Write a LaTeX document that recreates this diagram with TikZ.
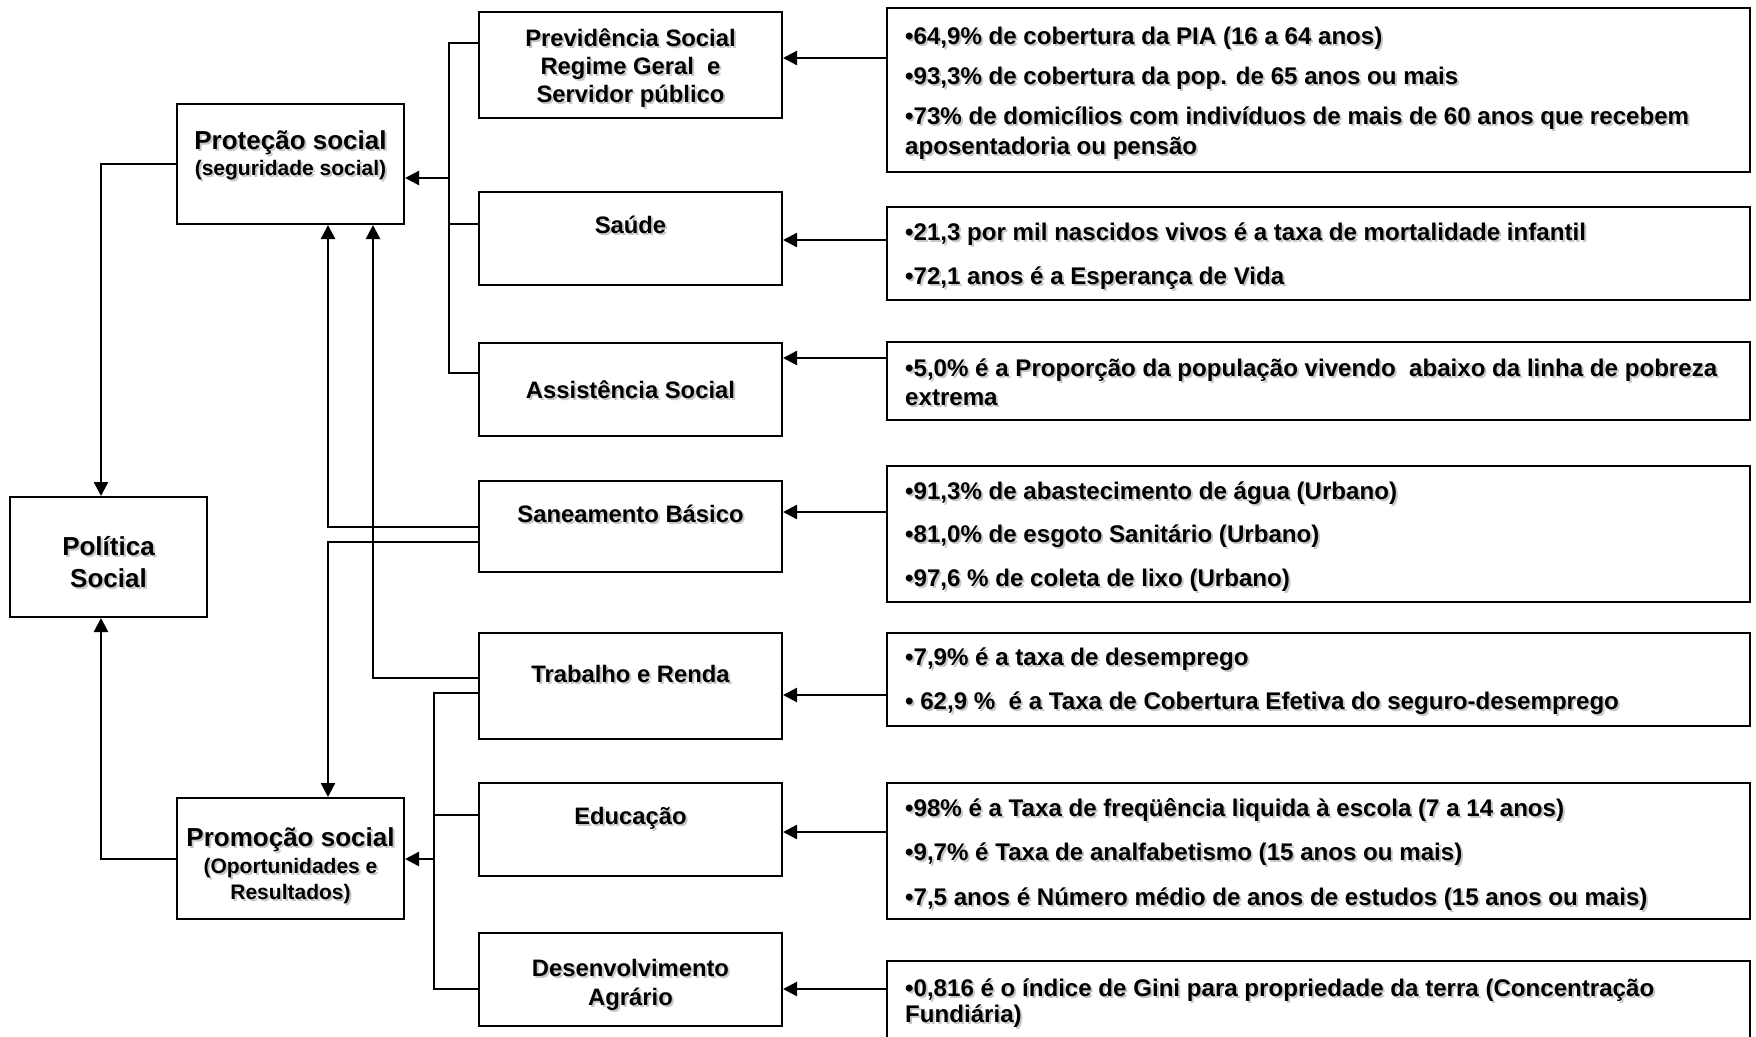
\documentclass[tikz,border=0pt]{standalone}
\usepackage{fontspec}
\setmainfont{Liberation Sans}
\usetikzlibrary{arrows.meta,fit}

% text with a soft grey drop shadow: #1 style, #2 name, #3 position, #4 text
\newcommand\shtext[4]{%
  \node[#1, text=black!22, xshift=2pt, yshift=-2pt] at #3 {#4};
  \node[#1] (#2) at #3 {#4};}

\begin{document}
\begin{tikzpicture}[x=1pt,y=-1pt,
  box/.style={draw, line width=2pt, inner sep=0pt},
  conn/.style={line width=1.8pt},
  arr/.style={line width=2.4pt, -{Triangle[length=14pt,width=14pt]}},
  ttl/.style={font=\fontsize{26}{31}\selectfont\bfseries, inner sep=0pt, anchor=base},
  sub/.style={font=\fontsize{21}{25}\selectfont\bfseries, inner sep=0pt, anchor=base},
  mid/.style={font=\fontsize{23.8}{28}\selectfont\bfseries, inner sep=0pt, anchor=base},
  info/.style={font=\fontsize{24.1}{28}\selectfont\bfseries, inner sep=0pt, anchor=base west},
]
\useasboundingbox (0,0) rectangle (1756,1036);
\clip (0,0) rectangle (1756,1036);

% ---------- left column ----------
\node[box, fit={(10,497) (207,617)}] (pol) {};
\node[box, fit={(177,104) (404,224)}] (prot) {};
\node[box, fit={(177,798) (404,919)}] (prom) {};

\shtext{ttl}{polA}{(108.5,555)}{Política}
\shtext{ttl}{polB}{(108.5,587)}{Social}
\shtext{ttl}{protA}{(290.5,149)}{Proteção social}
\shtext{sub}{protB}{(290.5,175)}{(seguridade social)}
\shtext{ttl}{promA}{(290.5,846)}{Promoção social}
\shtext{sub}{promB}{(290.5,873)}{(Oportunidades e}
\shtext{sub}{promC}{(290.5,899)}{Resultados)}

% ---------- middle column ----------
\node[box, fit={(479,12) (782,118)}] (prev) {};
\node[box, fit={(479,192) (782,285)}] (saude) {};
\node[box, fit={(479,343) (782,436)}] (assist) {};
\node[box, fit={(479,481) (782,572)}] (san) {};
\node[box, fit={(479,633) (782,739)}] (trab) {};
\node[box, fit={(479,783) (782,876)}] (edu) {};
\node[box, fit={(479,933) (782,1026)}] (desen) {};

\shtext{mid}{prevA}{(630.5,46)}{Previdência Social}
\shtext{mid}{prevB}{(630.5,74.5)}{Regime Geral~ e}
\shtext{mid}{prevC}{(630.5,102)}{Servidor público}
\shtext{mid}{saudeA}{(630.5,233)}{Saúde}
\shtext{mid}{assistA}{(630.5,398)}{Assistência Social}
\shtext{mid}{sanA}{(630.5,522)}{Saneamento Básico}
\shtext{mid}{trabA}{(630.5,682)}{Trabalho e Renda}
\shtext{mid}{eduA}{(630.5,824)}{Educação}
\shtext{mid}{desenA}{(630.5,976)}{Desenvolvimento}
\shtext{mid}{desenB}{(630.5,1005)}{Agrário}

% ---------- right column: indicators ----------
\node[box, fit={(887,8) (1750,172)}] (info1) {};
\node[box, fit={(887,207) (1750,300)}] (info2) {};
\node[box, fit={(887,342) (1750,420)}] (info3) {};
\node[box, fit={(887,466) (1750,602)}] (info4) {};
\node[box, fit={(887,633) (1750,726)}] (info5) {};
\node[box, fit={(887,783) (1750,919)}] (info6) {};
\node[box, fit={(887,961) (1750,1050)}] (info7) {};

\shtext{info}{i1a}{(905,44)}{•64,9\% de cobertura da PIA (16 a 64 anos)}
\shtext{info}{i1b}{(905,84)}{•93,3\% de cobertura da pop. de 65 anos ou mais}
\shtext{info}{i1c}{(905,124)}{•73\% de domicílios com indivíduos de mais de 60 anos que recebem}
\shtext{info}{i1d}{(905,154)}{aposentadoria ou pensão}
\shtext{info}{i2a}{(905,240)}{•21,3 por mil nascidos vivos é a taxa de mortalidade infantil}
\shtext{info}{i2b}{(905,284)}{•72,1 anos é a Esperança de Vida}
\shtext{info}{i3a}{(905,376)}{•5,0\% é a Proporção da população vivendo~ abaixo da linha de pobreza}
\shtext{info}{i3b}{(905,405)}{extrema}
\shtext{info}{i4a}{(905,499)}{•91,3\% de abastecimento de água (Urbano)}
\shtext{info}{i4b}{(905,542)}{•81,0\% de esgoto Sanitário (Urbano)}
\shtext{info}{i4c}{(905,586)}{•97,6 \% de coleta de lixo (Urbano)}
\shtext{info}{i5a}{(905,665)}{•7,9\% é a taxa de desemprego}
\shtext{info}{i5b}{(905,709)}{• 62,9 \%~ é a Taxa de Cobertura Efetiva do seguro-desemprego}
\shtext{info}{i6a}{(905,816)}{•98\% é a Taxa de freqüência liquida à escola (7 a 14 anos)}
\shtext{info}{i6b}{(905,860)}{•9,7\% é Taxa de analfabetismo (15 anos ou mais)}
\shtext{info}{i6c}{(905,905)}{•7,5 anos é Número médio de anos de estudos (15 anos ou mais)}
\shtext{info}{i7a}{(905,996)}{•0,816 é o índice de Gini para propriedade da terra (Concentração}
\shtext{info}{i7b}{(905,1022)}{Fundiária)}

% ---------- indicators feed each policy area ----------
\draw[arr] (info1.west |- 0,58)  -- (prev.east |- 0,58);
\draw[arr] (info2.west |- 0,240) -- (saude.east |- 0,240);
\draw[arr] (info3.west |- 0,358) -- (assist.east |- 0,358);
\draw[arr] (info4.west |- 0,512) -- (san.east |- 0,512);
\draw[arr] (info5.west |- 0,695) -- (trab.east |- 0,695);
\draw[arr] (info6.west |- 0,832) -- (edu.east |- 0,832);
\draw[arr] (info7.west |- 0,989) -- (desen.east |- 0,989);

% ---------- social protection bus ----------
\coordinate (busT) at (449,43);
\coordinate (busM) at (449,178);
\coordinate (busB) at (449,373);
\draw[conn] (prev.west |- busT) -- (busT) -- (busB) -- (assist.west |- busB);
\draw[conn] (saude.west |- 0,224) -- (busB |- 0,224);
\draw[arr] (busM) -- (prot.east |- busM);

% ---------- social promotion bus ----------
\coordinate (pbT) at (434,693);
\coordinate (pbM) at (434,859);
\coordinate (pbB) at (434,989);
\draw[conn] (trab.west |- pbT) -- (pbT) -- (pbB) -- (desen.west |- pbB);
\draw[conn] (edu.west |- 0,815) -- (pbT |- 0,815);
\draw[arr] (pbM) -- (prom.east |- pbM);

% ---------- cross links ----------
\draw[arr] (san.west |- 0,527) -| (prot.south -| 328,0);
\draw[arr] (san.west |- 0,542) -| (prom.north -| 328,0);
\draw[arr] (trab.west |- 0,678) -| (prot.south -| 373,0);

% ---------- links to the overall policy ----------
\draw[arr] (prot.west |- 0,164) -| (pol.north -| 101,0);
\draw[arr] (prom.west |- 0,859) -| (pol.south -| 101,0);
\end{tikzpicture}
\end{document}
